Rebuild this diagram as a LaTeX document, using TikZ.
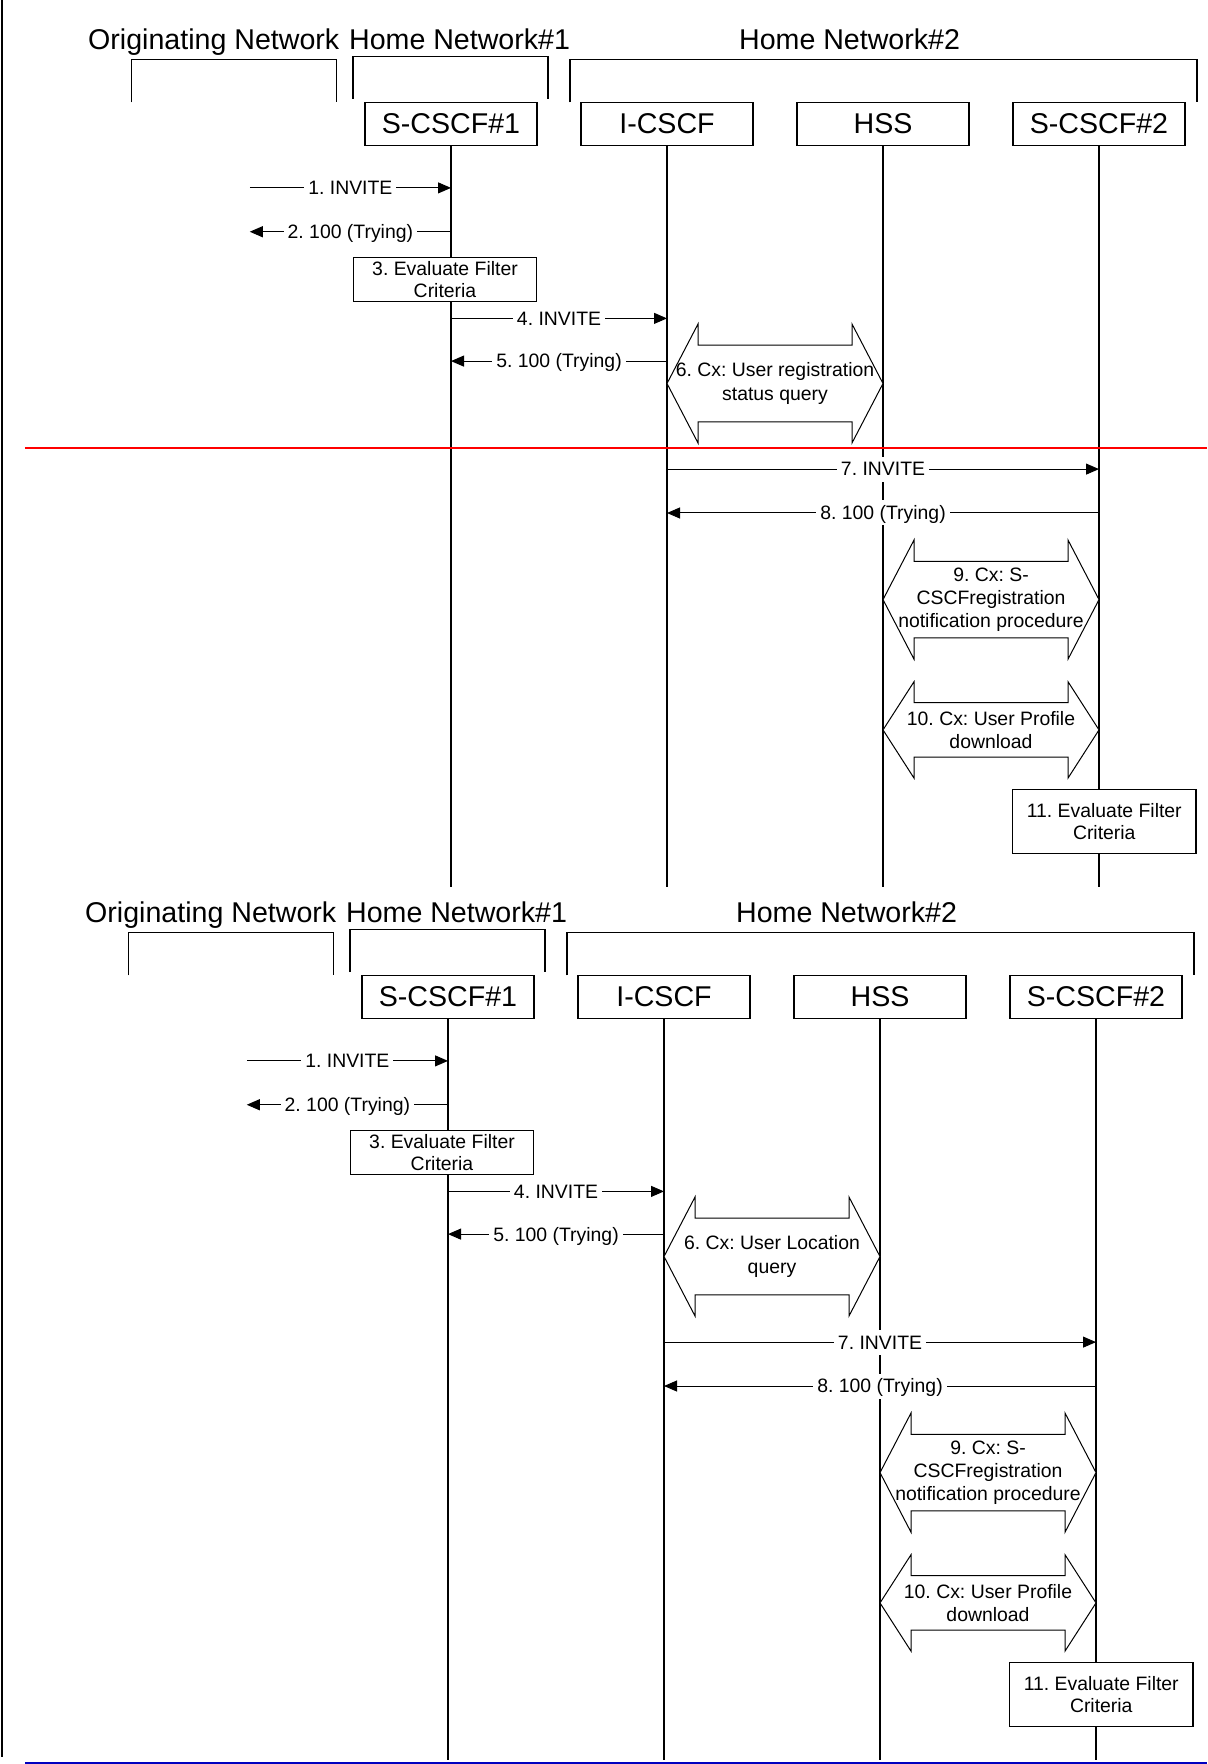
\documentclass[tikz,border=0pt]{standalone}
\usepackage{fontspec}
\setmainfont{Liberation Sans}
\usetikzlibrary{arrows.meta}
\frenchspacing

\tikzset{
  title/.style={inner sep=0pt, anchor=base, font=\fontsize{14.3}{17}\selectfont},
  entity/.style={draw, line width=0.6pt, minimum width=86pt, minimum height=21.4pt,
    inner sep=0pt, font=\fontsize{14.3}{17}\selectfont},
  bracket/.style={line width=0.6pt},
  life/.style={line width=0.7pt},
  msg/.style={line width=0.5pt, -{Triangle[length=6.5pt,width=5.5pt]}},
  msglbl/.style={fill=white, inner xsep=2pt, inner ysep=1pt, text height=8.7pt,
    text depth=1.8pt, font=\fontsize{9.7}{11.6}\selectfont},
  actbox/.style={draw, fill=white, line width=0.6pt, align=center, inner sep=0pt,
    font=\fontsize{9.7}{11.2}\selectfont},
  blockarrow/.style={draw, fill=white, line width=0.5pt, line join=miter},
  cxlbl/.style={align=center, inner sep=0pt, font=\fontsize{9.7}{11.6}\selectfont},
}

% two-headed block arrow: left x, right x, middle y, head half-height, shaft half-height
\newcommand\blockarr[5]{%
  \draw[blockarrow] (#1,#3) -- ({#1+31},{#3-#4}) -- ({#1+31},{#3-#5})
    -- ({#2-31},{#3-#5}) -- ({#2-31},{#3-#4}) -- (#2,#3)
    -- ({#2-31},{#3+#4}) -- ({#2-31},{#3+#5}) -- ({#1+31},{#3+#5})
    -- ({#1+31},{#3+#4}) -- cycle;
}

% one complete call flow: #1 name prefix, #2 text of step 6
\newcommand\callflow[2]{%
  % network headings and brackets
  \node[title] (#1orgT) at (213.75,49.3) {Originating Network};
  \node[title] (#1h1T) at (459.6,49.3) {Home Network\#1};
  \node[title] (#1h2T) at (849.6,49.3) {Home Network\#2};
  \draw[bracket] (131.6,102.4) -- (131.6,59.6) -- (336.4,59.6) -- (336.4,102.4);
  \draw[bracket] (353,99) -- (353,56.25) -- (548,56.25) -- (548,99);
  \draw[bracket] (570,102.4) -- (570,59.6) -- (1197,59.6) -- (1197,102.4);
  % entities
  \node[entity] (#1S1) at (451,123.75) {S-CSCF\#1};
  \node[entity] (#1IC) at (667,123.75) {I-CSCF};
  \node[entity] (#1HSS) at (883,123.75) {HSS};
  \node[entity] (#1S2) at (1099,123.75) {S-CSCF\#2};
  % lifelines
  \coordinate (#1bottom) at (0,886.6);
  \draw[life] (#1S1.south) -- (#1bottom -| #1S1);
  \draw[life] (#1IC.south) -- (#1bottom -| #1IC);
  \draw[life] (#1HSS.south) -- (#1bottom -| #1HSS);
  \draw[life] (#1S2.south) -- (#1bottom -| #1S2);
  % messages
  \coordinate (#1ext1) at (249.75,187.9);
  \draw[msg] (#1ext1) -- node[msglbl] {1. INVITE} (#1ext1 -| #1S1);
  \coordinate (#1ext2) at (249.75,231.75);
  \draw[msg] (#1ext2 -| #1S1) -- node[msglbl] {2. 100 (Trying)} (#1ext2);
  \node[actbox, minimum width=91.7pt, minimum height=22pt] (#1EF1) at (445,279.5)
    {3. Evaluate Filter\\Criteria};
  \coordinate (#1y4) at (0,318.4);
  \draw[msg] (#1y4 -| #1S1) -- node[msglbl] {4. INVITE} (#1y4 -| #1IC);
  \coordinate (#1y5) at (0,361.1);
  \draw[msg] (#1y5 -| #1IC) -- node[msglbl] {5. 100 (Trying)} (#1y5 -| #1S1);
  \blockarr{667}{883}{383.5}{59.5}{38.3}
  \node[cxlbl] (#1cx6) at (775,383.5) {#2};
  \coordinate (#1y7) at (0,469.1);
  \draw[msg] (#1y7 -| #1IC) -- node[msglbl] {7. INVITE} (#1y7 -| #1S2);
  \coordinate (#1y8) at (0,513);
  \draw[msg] (#1y8 -| #1S2) -- node[msglbl] {8. 100 (Trying)} (#1y8 -| #1IC);
  \blockarr{883}{1099}{599.6}{59.6}{38.3}
  \node[cxlbl] (#1cx9) at (991,599.6)
    {9. Cx: S-\\CSCFregistration\\notification procedure};
  \blockarr{883}{1099}{729.9}{48.2}{27.3}
  \node[cxlbl] (#1cx10) at (991,729.9) {10. Cx: User Profile\\download};
  \node[actbox, minimum width=91.75pt, minimum height=32pt] (#1EF2) at (1104.25,821.6)
    {11. Evaluate Filter\\Criteria};
}

\begin{document}
\begin{tikzpicture}[x=0.5pt,y=-0.5pt]
  \useasboundingbox (0,0) rectangle (1207,1764);
  \draw[line width=1pt] (2,0) -- (2,1757);
  \callflow{t-}{6. Cx: User registration\\status query}
  \draw[red, line width=0.8pt] (24.75,447.75) -- (1207,447.75);
  \begin{scope}[shift={(-3,873)}]
    \callflow{b-}{6. Cx: User Location\\query}
  \end{scope}
  \draw[blue!75!black, line width=1pt] (25,1762.5) -- (1207,1762.5);
\end{tikzpicture}
\end{document}
